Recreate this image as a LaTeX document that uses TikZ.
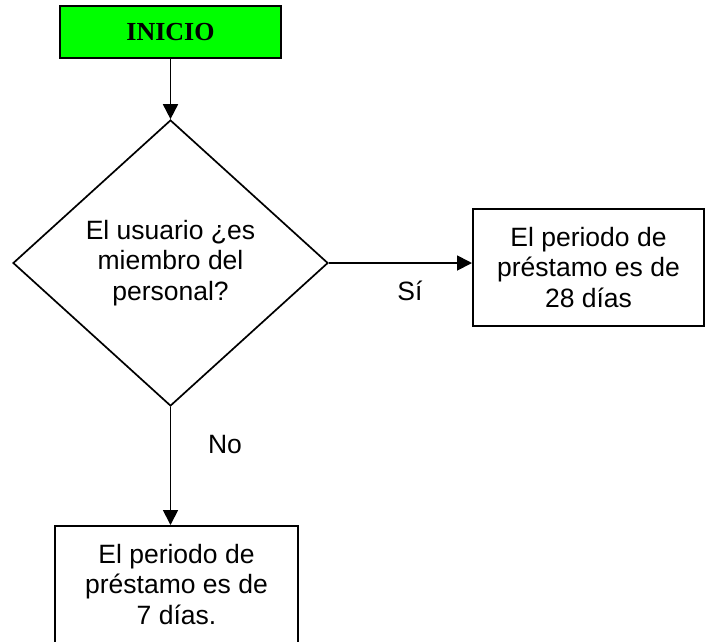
\documentclass[tikz,border=0pt]{standalone}
\usepackage{fontspec}
\setmainfont{Liberation Sans}
\newfontfamily\serifbold{Liberation Serif}
\usetikzlibrary{shapes.geometric,arrows.meta}
\definecolor{startgreen}{HTML}{00FF00}
\tikzset{
  txt/.style={font=\fontsize{26.5}{30.5}\selectfont, align=center},
  procbox/.style={draw, line width=2pt, rectangle, inner sep=0pt, txt},
  decision/.style={draw, line width=1.7pt, diamond, inner sep=0pt, txt},
  flow/.style={line width=1.8pt, -{Triangle[length=15pt,width=15pt]}},
  lbl/.style={txt, inner sep=0pt}
}
\begin{document}
\begin{tikzpicture}[x=1pt,y=-1pt]
\useasboundingbox (0,0) rectangle (706,641);
\node[procbox, fill=startgreen, minimum width=221pt, minimum height=52pt,
      font=\serifbold\bfseries\fontsize{26}{30}\selectfont] (inicio) at (170.5,32) {INICIO};
\node[decision, minimum width=315pt, minimum height=286pt] (dec) at (170.5,263)
  {El usuario ¿es\\miembro del\\personal?};
\node[procbox, minimum width=231pt, minimum height=117pt] (rbox) at (588.5,267.5)
  {El periodo de\\préstamo es de\\28 días};
\node[procbox, minimum width=243pt, minimum height=117pt] (bbox) at (176.5,584.5)
  {El periodo de\\préstamo es de\\7 días.};
\draw[flow] (inicio.south) -- (dec.north);
\draw[flow] (dec.east) -- (dec.east -| rbox.west);
\draw[flow] (dec.south) -- (dec.south |- bbox.north);
\node[lbl] (si) at (410,291) {Sí};
\node[lbl] (no) at (225,445) {No};
\end{tikzpicture}
\end{document}
